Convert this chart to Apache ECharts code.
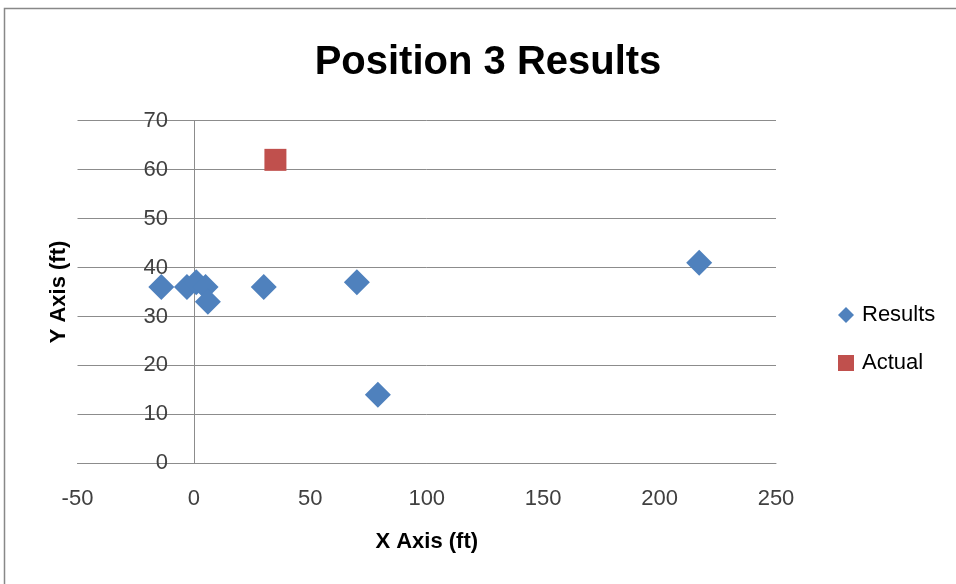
<!DOCTYPE html>
<html>
<head>
<meta charset="utf-8">
<script src="https://cdn.jsdelivr.net/npm/echarts@6/dist/echarts.min.js"></script>
<style>
  html, body { margin: 0; padding: 0; background: #fff; }
  #chart { width: 956px; height: 584px; }
</style>
</head>
<body>
<div id="chart"></div>
<script>
// Measured positions (feet)
const resultsX = [-14, -3, 1, 5, 6, 30, 70, 79, 217];
const resultsY = [36, 36, 37, 36, 33, 36, 37, 14, 41];
const actualX = [35];
const actualY = [62];

const xTicks = [-50, 0, 50, 100, 150, 200, 250];
const yTicks = [0, 10, 20, 30, 40, 50, 60, 70];

const FONT = '"Liberation Sans", Arial, sans-serif';
const GRID_GRAY = '#8c8c8c';
const LABEL_COLOR = '#404040';

const pairs = (xs, ys) => xs.map((x, i) => [x, ys[i]]);

const chart = echarts.init(document.getElementById('chart'));
chart.setOption({
  backgroundColor: '#fff',
  animation: false,
  title: {
    text: 'Position 3 Results',
    left: 483,
    top: 38,
    textAlign: 'center',
    textStyle: { fontFamily: FONT, fontSize: 40, fontWeight: 'bold', color: '#000' }
  },
  graphic: [{
    type: 'rect',
    shape: { x: 4.5, y: 8.5, width: 1200, height: 1200 },
    style: { fill: 'none', stroke: '#888', lineWidth: 1.5 },
    silent: true
  }],
  legend: {
    orient: 'vertical',
    left: 833,
    top: 299,
    itemWidth: 16,
    itemHeight: 16,
    itemGap: 26,
    textStyle: { fontFamily: FONT, fontSize: 22, color: '#000', padding: [0, 0, 0, 3] },
    data: ['Results', 'Actual']
  },
  grid: { left: 77.5, right: 180, top: 120.7, bottom: 120.7, containLabel: false, outerBoundsMode: 'none' },
  xAxis: {
    type: 'value',
    min: xTicks[0],
    max: xTicks[xTicks.length - 1],
    interval: 50,
    name: 'X Axis (ft)',
    nameLocation: 'middle',
    nameGap: 68,
    nameTextStyle: { fontFamily: FONT, fontSize: 22, fontWeight: 'bold', color: '#000' },
    axisLine: { show: true, lineStyle: { color: GRID_GRAY, width: 1 } },
    axisTick: { show: false },
    splitLine: { show: false },
    axisLabel: { fontFamily: FONT, fontSize: 22, color: LABEL_COLOR, margin: 25 }
  },
  yAxis: {
    type: 'value',
    min: yTicks[0],
    max: yTicks[yTicks.length - 1],
    interval: 10,
    name: 'Y Axis (ft)',
    nameLocation: 'middle',
    nameGap: 2,
    nameRotate: 90,
    nameTextStyle: { fontFamily: FONT, fontSize: 22, fontWeight: 'bold', color: '#000' },
    axisLine: { show: false, onZero: false },
    axisTick: { show: false },
    splitLine: { show: true, lineStyle: { color: GRID_GRAY, width: 1 } },
    // tick labels sit beside the vertical axis drawn at x = 0
    axisLabel: { fontFamily: FONT, fontSize: 22, color: LABEL_COLOR, margin: -90.5 }
  },
  series: [
    {
      name: 'Results',
      type: 'scatter',
      symbol: 'diamond',
      symbolSize: 26,
      z: 3,
      itemStyle: { color: '#4F81BD', opacity: 1 },
      data: pairs(resultsX, resultsY),
      // vertical axis line crossing at x = 0
      markLine: {
        silent: true,
        symbol: 'none',
        label: { show: false },
        lineStyle: { color: GRID_GRAY, width: 1, type: 'solid' },
        z: 1,
        data: [{ xAxis: 0 }]
      }
    },
    {
      name: 'Actual',
      type: 'scatter',
      symbol: 'rect',
      symbolSize: 22,
      z: 3,
      itemStyle: { color: '#C0504D', opacity: 1 },
      data: pairs(actualX, actualY)
    }
  ]
});
</script>
</body>
</html>
